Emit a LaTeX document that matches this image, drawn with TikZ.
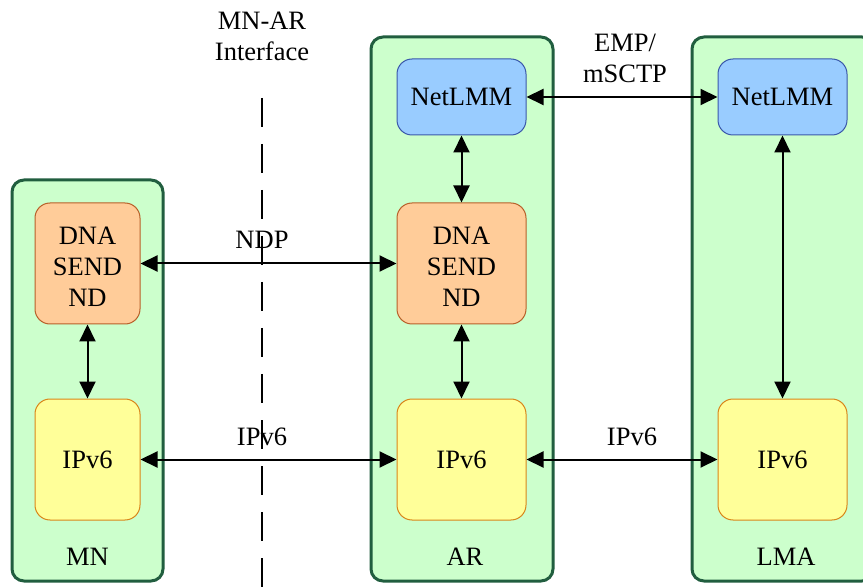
\documentclass[tikz,border=0pt]{standalone}
\usepackage{fontspec}
\setmainfont{Liberation Serif}
\usetikzlibrary{arrows.meta}

\definecolor{boxfill}{HTML}{CCFFCC}
\definecolor{boxline}{HTML}{215E3F}
\definecolor{ndfill}{HTML}{FFCC99}
\definecolor{ndline}{HTML}{B8602A}
\definecolor{ipfill}{HTML}{FFFF99}
\definecolor{ipline}{HTML}{D9861A}
\definecolor{lmfill}{HTML}{99CCFF}
\definecolor{lmline}{HTML}{3A58AA}

\tikzset{
  txt/.style={font=\fontsize{26.5}{31}\selectfont, align=center, inner sep=0pt},
  entity/.style={draw=boxline, fill=boxfill, line width=3pt, rounded corners=12pt,
    minimum width=#1, inner sep=0pt},
  layer/.style={rounded corners=15pt, line width=1pt, txt},
  ndbox/.style={layer, draw=ndline, fill=ndfill, minimum width=#1, minimum height=121pt},
  ipbox/.style={layer, draw=ipline, fill=ipfill, minimum width=#1, minimum height=121pt},
  lmbox/.style={layer, draw=lmline, fill=lmfill, minimum width=129pt, minimum height=76pt},
  link/.style={line width=2pt, {Triangle[length=17pt,width=16pt]}-{Triangle[length=17pt,width=16pt]}},
  boundary/.style={line width=1.5pt, dash pattern=on 29pt off 17pt}
}

\begin{document}
\begin{tikzpicture}[x=1pt, y=-1pt]
  \useasboundingbox (0,0) rectangle (863,588);

  % network entities
  \node[entity=151pt, minimum height=401pt] (mn)  at (87.5,380.5) {};
  \node[entity=182pt, minimum height=544pt] (ar)  at (462,309) {};
  \node[entity=182pt, minimum height=544pt] (lma) at (783,309) {};

  % protocol layers of the mobile node
  \node[ndbox=105pt] (mnnd) at (87.5,263.5) {};
  \node[txt] (mnndtext) at ([yshift=-3pt]mnnd.center) {DNA\\SEND\\ND};
  \node[ipbox=105pt] (mnip) at (87.5,459.5) {IPv6};

  % protocol layers of the access router
  \node[lmbox] (arlm) at (461.5,97) {NetLMM};
  \node[ndbox=129pt] (arnd) at (461.5,263.5) {};
  \node[txt] (arndtext) at ([yshift=-3pt]arnd.center) {DNA\\SEND\\ND};
  \node[ipbox=129pt] (arip) at (461.5,459.5) {IPv6};

  % protocol layers of the local mobility anchor
  \node[lmbox] (lmalm) at (782.5,97) {NetLMM};
  \node[ipbox=129pt] (lmaip) at (782.5,459.5) {IPv6};

  % entity names
  \node[txt] (mnname)  at (87.5,557) {MN};
  \node[txt] (arname)  at (465,557) {AR};
  \node[txt] (lmaname) at (786,557) {LMA};

  % MN-AR interface boundary
  \node[txt] (iflabel) at (262,36) {MN-AR\\Interface};
  \coordinate (iftop) at (262,98);
  \coordinate (ifbot) at (262,590);
  \draw[boundary] (iftop) -- (ifbot);

  % links inside entities
  \draw[link] (mnnd) -- (mnip);
  \draw[link] (arlm) -- (arnd);
  \draw[link] (arnd) -- (arip);
  \draw[link] (lmalm) -- (lmaip);

  % links between entities
  \draw[link] (mnnd) -- (arnd);
  \draw[link] (mnip) -- (arip);
  \draw[link] (arip) -- (lmaip);
  \draw[link] (arlm) -- (lmalm);

  % link labels
  \node[txt] (ndplabel) at (262,240) {NDP};
  \node[txt] (ip1label) at (262,437) {IPv6};
  \node[txt] (ip2label) at (632,437) {IPv6};
  \node[txt] (emplabel) at (625,58) {EMP/\\mSCTP};
\end{tikzpicture}
\end{document}
